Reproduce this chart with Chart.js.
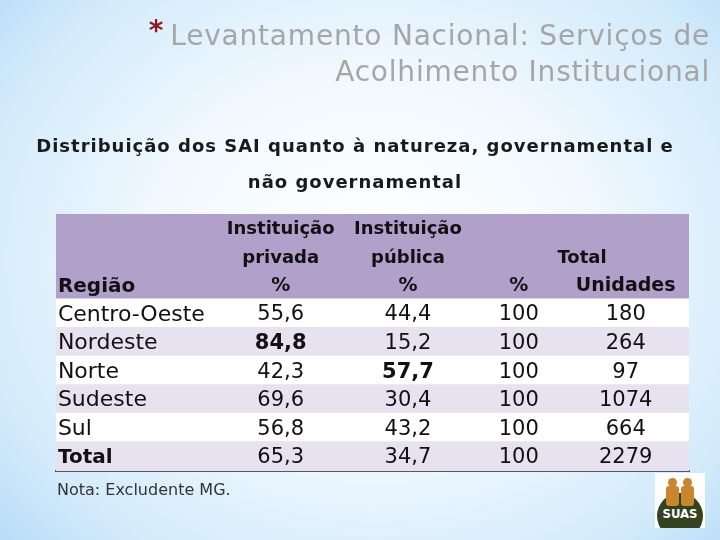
<!DOCTYPE html>
<html lang="pt-BR">
<head>
<meta charset="utf-8">
<title>Levantamento Nacional</title>
<script src="https://cdn.jsdelivr.net/npm/chart.js@4.4.1/dist/chart.umd.min.js"></script>
<style>
  html, body { margin: 0; padding: 0; }
  body {
    width: 720px; height: 540px; overflow: hidden; position: relative;
    background: radial-gradient(ellipse 78% 88% at 52% 48%, #ffffff 0%, #f2f9fe 38%, #d3ebfb 72%, #a8d3f5 100%);
    font-family: "DejaVu Sans", sans-serif;
  }
  #grafico { position: absolute; left: 0; top: 0; }
  .titulo {
    position: absolute; right: 10px; top: 13px; text-align: right;
    color: #a6a6a6; font-size: 28px; line-height: 36px; letter-spacing: 0.8px; white-space: nowrap;
  }
  .titulo .ast { color: #8e1c1c; font-size: 28px; font-weight: bold; vertical-align: 5px; margin-right: 6px; }
  .subtitulo {
    position: absolute; left: 0; width: 710px; top: 128px; text-align: center;
    color: #1a1a1a; font-size: 18px; font-weight: bold; letter-spacing: 1px; line-height: 36px;
  }
  .nota { position: absolute; left: 57px; top: 480px; color: #333; font-size: 16px; }
  .logo {
    position: absolute; left: 655px; top: 473px; width: 50px; height: 55px;
    background: #fff; overflow: hidden;
  }
  .logo .globo {
    position: absolute; left: 2px; top: 20px; width: 46px; height: 46px;
    border-radius: 50%; background: #34421f;
  }
  .logo .cab { position: absolute; width: 9px; height: 9px; border-radius: 50%; background: #c9862c; top: 5px; }
  .logo .corpo { position: absolute; width: 13px; height: 20px; background: #c9862c; top: 13px; border-radius: 3px; }
  .logo .sigla {
    position: absolute; left: 0; width: 50px; top: 33px; text-align: center;
    color: #fff; font: bold 13px "DejaVu Sans Condensed", "DejaVu Sans", sans-serif;
  }
</style>
</head>
<body>
<canvas id="grafico" width="720" height="540"></canvas>
<div class="titulo"><span class="ast">*</span>Levantamento Nacional: Serviços de<br>Acolhimento Institucional</div>
<div class="subtitulo">Distribuição dos SAI quanto à natureza, governamental e<br>não governamental</div>
<div class="nota">Nota: Excludente MG.</div>
<div class="logo">
  <div class="globo"></div>
  <div class="cab" style="left:13px"></div><div class="corpo" style="left:11px"></div>
  <div class="cab" style="left:28px"></div><div class="corpo" style="left:26px"></div>
  <div class="sigla">SUAS</div>
</div>
<script>
// DADOS DA TABELA
const regioes = ['Centro-Oeste', 'Nordeste', 'Norte', 'Sudeste', 'Sul', 'Total'];
const privada = [55.6, 84.8, 42.3, 69.6, 56.8, 65.3];
const publica = [44.4, 15.2, 57.7, 30.4, 43.2, 34.7];
const totalPct = [100, 100, 100, 100, 100, 100];
const unidades = [180, 264, 97, 1074, 664, 2279];

// CABECALHO (3 linhas)
const cabecalho1 = ['', 'Instituição', 'Instituição', '', ''];
const cabecalho2 = ['', 'privada', 'pública', 'Total', ''];
const cabecalho3 = ['Região', '%', '%', '%', 'Unidades'];

// celulas em negrito [linha, coluna]
const destaques = [[1, 1], [2, 2], [5, 0]];

// posicao das colunas no eixo x (0 a 100 = largura da tabela)
const colunasX = [0.3, 35.5, 55.6, 73.1, 90.0];
const cabecalho2X = [0.3, 35.5, 55.6, 83.1, 90.0];

const corCab = '#b1a0c9';
const corLilas = '#e7e2ef';
const corBranco = '#ffffff';

const linhas = ['cab1', 'cab2', 'cab3'].concat(regioes);
const cores = [corCab, corCab, corCab].concat(regioes.map((r, i) => i % 2 ? corLilas : corBranco));

const fmt = v => v.toFixed(1).replace('.', ',');

const textoTabela = {
  id: 'textoTabela',
  afterDatasetsDraw(chart) {
    const c = chart.ctx;
    const x = chart.scales.x;
    const y = chart.scales.y;
    c.save();
    c.textBaseline = 'middle';
    c.fillStyle = '#111';

    const escreve = (txt, col, xs, linha, negrito, tam) => {
      if (!txt) return;
      c.font = (negrito ? 'bold ' : '') + tam + 'px "DejaVu Sans", sans-serif';
      c.textAlign = col === 0 ? 'left' : 'center';
      c.fillText(txt, x.getPixelForValue(xs), y.getPixelForValue(linha) + 1);
    };

    cabecalho1.forEach((t, j) => escreve(t, j, colunasX[j], 0, true, 18));
    cabecalho2.forEach((t, j) => escreve(t, j, cabecalho2X[j], 1, true, 18));
    cabecalho3.forEach((t, j) => escreve(t, j, colunasX[j], 2, true, j === 0 ? 20 : 19));

    regioes.forEach((r, i) => {
      const cel = [r, fmt(privada[i]), fmt(publica[i]), String(totalPct[i]), String(unidades[i])];
      cel.forEach((t, j) => {
        const negrito = destaques.some(d => d[0] === i && d[1] === j);
        const tam = j === 0 ? (negrito ? 20 : 22) : 21;
        escreve(t, j, colunasX[j], i + 3, negrito, tam);
      });
    });
    c.restore();
  }
};

const ctx = document.getElementById('grafico');

new Chart(ctx, {
  type: 'bar',
  data: {
    labels: linhas,
    datasets: [{
      data: linhas.map(() => [0, 100]),
      backgroundColor: cores,
      borderWidth: 0,
      barPercentage: 1,
      categoryPercentage: 1.08
    }]
  },
  options: {
    indexAxis: 'y',
    responsive: false,
    animation: false,
    layout: { padding: { left: 56, right: 31, top: 214, bottom: 69 } },
    plugins: { legend: { display: false }, tooltip: { enabled: false } },
    scales: {
      x: {
        min: 0, max: 100,
        ticks: { display: false },
        grid: { display: false, drawTicks: false },
        border: { display: true, color: '#5b556e', width: 2 }
      },
      y: { display: false }
    }
  },
  plugins: [textoTabela]
});
</script>
</body>
</html>
